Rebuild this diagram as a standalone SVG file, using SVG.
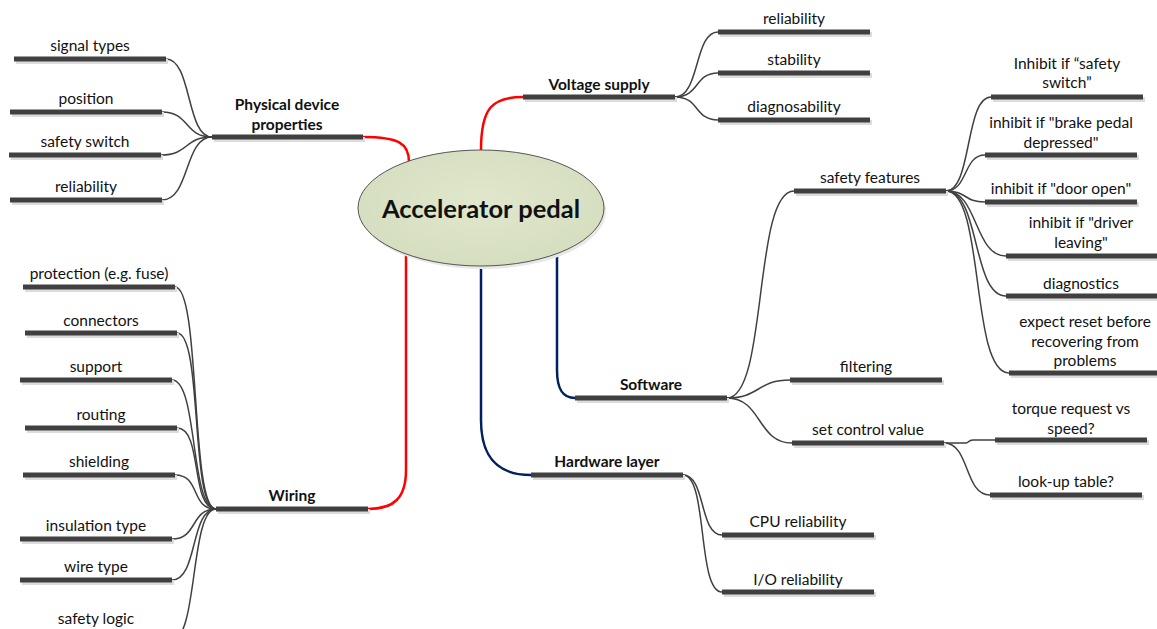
<svg xmlns="http://www.w3.org/2000/svg" width="1157" height="629" viewBox="0 0 1157 629">
<style>
text{font-family:Lato,"Liberation Sans",sans-serif;font-size:15.5px;fill:#111;text-anchor:middle}
.b{font-weight:bold}
.title{font-size:25.5px;font-weight:bold}
.bar{fill:#404040}
.sh{fill:#dcdcdc}
.c{fill:none;stroke:#404040;stroke-width:1.5}
.red{fill:none;stroke:#ff0000;stroke-width:2.5}
.blue{fill:none;stroke:#002060;stroke-width:2.5}
</style>
<defs>
<radialGradient id="eg" cx="0.5" cy="0.45" r="0.6">
<stop offset="0" stop-color="#e0e7cc"/>
<stop offset="1" stop-color="#d5ddbf"/>
</radialGradient>
</defs>
<rect width="1157" height="629" fill="#fff"/>

<g id="connectors">
<path class="red" d="M363 137 C398 137 409 143 409 162"/>
<path class="red" d="M523 97 C492 97 481 108 481 150"/>
<path class="red" d="M406 253 L406 470 C406 498 394 509 368 509"/>
<path class="blue" d="M557 253 L557 370 C557 390 563 398 575 398"/>
<path class="blue" d="M481 267 L481 420 C481 460 500 475 531 475"/>
<path class="c" d="M212 137 C186 137 192 59 166 59"/>
<path class="c" d="M212 137 C184 137 190 112 162 112"/>
<path class="c" d="M212 137 C184 137 189 155 161 155"/>
<path class="c" d="M212 137 C184 137 190 200 162 200"/>
<path class="c" d="M675 97 C700 97 694 32 718 32"/>
<path class="c" d="M675 97 C700 97 694 73 718 73"/>
<path class="c" d="M675 97 C700 97 694 120 718 120"/>
<path class="c" d="M946 191 C972 191 965 97 991 97"/>
<path class="c" d="M946 191 C968 191 963 155 985 155"/>
<path class="c" d="M946 191 C968 191 963 202 985 202"/>
<path class="c" d="M946 191 C978 191 974 256 1006 256"/>
<path class="c" d="M946 191 C980 191 972 296 1006 296"/>
<path class="c" d="M946 191 C985 191 970 373 1009 373"/>
<path class="c" d="M727 398 C768 398 753 191 794 191"/>
<path class="c" d="M727 398 C760 398 757 380 790 380"/>
<path class="c" d="M727 398 C762 398 757 443 792 443"/>
<path class="c" d="M944 443 L966 443 C969 443 968 440 973 440 L995 440"/>
<path class="c" d="M944 443 C970 443 964 495 990 495"/>
<path class="c" d="M683 475 C706 475 699 535 722 535"/>
<path class="c" d="M683 475 C708 475 697 592 722 592"/>
<path class="c" d="M216 509 C190 509 201 287 175 287"/>
<path class="c" d="M216 509 C190 509 203 333 177 333"/>
<path class="c" d="M216 509 C190 509 198 380 172 380"/>
<path class="c" d="M216 509 C190 509 203 428 177 428"/>
<path class="c" d="M216 509 C190 509 201 475 175 475"/>
<path class="c" d="M216 509 C190 509 198 539 172 539"/>
<path class="c" d="M216 509 C190 509 198 580 172 580"/>
<path class="c" d="M216 509 C190 509 198 640 172 640"/>
</g>

<g id="n-center">
<ellipse cx="483" cy="211" rx="123" ry="58" fill="#e8e8e8"/>
<ellipse cx="481" cy="208" rx="123" ry="58" fill="url(#eg)" stroke="#555" stroke-width="1"/>
<text class="title" x="481" y="218">Accelerator pedal</text>
</g>

<g id="n-physical"><rect class="sh" x="214" y="137" width="151" height="5"/><rect class="bar" x="212" y="134.5" width="151" height="5"/><text class="b" x="287" y="110">Physical device</text><text class="b" x="287" y="130">properties</text></g>
<g id="n-signal"><rect class="sh" x="16" y="59" width="152" height="5"/><rect class="bar" x="14" y="56.5" width="152" height="5"/><text x="90" y="51">signal types</text></g>
<g id="n-position"><rect class="sh" x="12" y="112" width="152" height="5"/><rect class="bar" x="10" y="109.5" width="152" height="5"/><text x="86" y="104">position</text></g>
<g id="n-safetyswitch"><rect class="sh" x="11" y="155" width="152" height="5"/><rect class="bar" x="9" y="152.5" width="152" height="5"/><text x="85" y="147">safety switch</text></g>
<g id="n-reliab1"><rect class="sh" x="12" y="200" width="152" height="5"/><rect class="bar" x="10" y="197.5" width="152" height="5"/><text x="86" y="192">reliability</text></g>

<g id="n-voltage"><rect class="sh" x="525" y="97" width="152" height="5"/><rect class="bar" x="523" y="94.5" width="152" height="5"/><text class="b" x="599" y="90">Voltage supply</text></g>
<g id="n-reliab2"><rect class="sh" x="720" y="32" width="152" height="5"/><rect class="bar" x="718" y="29.5" width="152" height="5"/><text x="794" y="24">reliability</text></g>
<g id="n-stability"><rect class="sh" x="720" y="73" width="152" height="5"/><rect class="bar" x="718" y="70.5" width="152" height="5"/><text x="794" y="65">stability</text></g>
<g id="n-diagnosability"><rect class="sh" x="720" y="120" width="152" height="5"/><rect class="bar" x="718" y="117.5" width="152" height="5"/><text x="794" y="112">diagnosability</text></g>

<g id="n-safetyfeatures"><rect class="sh" x="796" y="191" width="152" height="5"/><rect class="bar" x="794" y="188.5" width="152" height="5"/><text x="870" y="183">safety features</text></g>
<g id="n-inh-switch"><rect class="sh" x="993" y="97" width="152" height="5"/><rect class="bar" x="991" y="94.5" width="152" height="5"/><text x="1067" y="69">Inhibit if “safety</text><text x="1067" y="88">switch”</text></g>
<g id="n-inh-brake"><rect class="sh" x="987" y="155" width="152" height="5"/><rect class="bar" x="985" y="152.5" width="152" height="5"/><text x="1061" y="128">inhibit if "brake pedal</text><text x="1061" y="148">depressed"</text></g>
<g id="n-inh-door"><rect class="sh" x="987" y="202" width="152" height="5"/><rect class="bar" x="985" y="199.5" width="152" height="5"/><text x="1061" y="194">inhibit if "door open"</text></g>
<g id="n-inh-driver"><rect class="sh" x="1008" y="256" width="152" height="5"/><rect class="bar" x="1006" y="253.5" width="152" height="5"/><text x="1081" y="228">inhibit if "driver</text><text x="1081" y="248">leaving"</text></g>
<g id="n-diagnostics"><rect class="sh" x="1008" y="296" width="152" height="5"/><rect class="bar" x="1006" y="293.5" width="152" height="5"/><text x="1081" y="289">diagnostics</text></g>
<g id="n-reset"><rect class="sh" x="1011" y="373" width="152" height="5"/><rect class="bar" x="1009" y="370.5" width="152" height="5"/><text x="1085" y="327">expect reset before</text><text x="1085" y="347">recovering from</text><text x="1085" y="366">problems</text></g>

<g id="n-software"><rect class="sh" x="577" y="398" width="152" height="5"/><rect class="bar" x="575" y="395.5" width="152" height="5"/><text class="b" x="651" y="390">Software</text></g>
<g id="n-filtering"><rect class="sh" x="792" y="380" width="152" height="5"/><rect class="bar" x="790" y="377.5" width="152" height="5"/><text x="866" y="372">filtering</text></g>
<g id="n-setcontrol"><rect class="sh" x="794" y="443" width="152" height="5"/><rect class="bar" x="792" y="440.5" width="152" height="5"/><text x="868" y="435">set control value</text></g>
<g id="n-torque"><rect class="sh" x="997" y="440" width="152" height="5"/><rect class="bar" x="995" y="437.5" width="152" height="5"/><text x="1071" y="414">torque request vs</text><text x="1071" y="434">speed?</text></g>
<g id="n-lookup"><rect class="sh" x="992" y="495" width="152" height="5"/><rect class="bar" x="990" y="492.5" width="152" height="5"/><text x="1066" y="487">look-up table?</text></g>

<g id="n-hardware"><rect class="sh" x="533" y="475" width="152" height="5"/><rect class="bar" x="531" y="472.5" width="152" height="5"/><text class="b" x="607" y="467">Hardware layer</text></g>
<g id="n-cpu"><rect class="sh" x="724" y="535" width="152" height="5"/><rect class="bar" x="722" y="532.5" width="152" height="5"/><text x="798" y="527">CPU reliability</text></g>
<g id="n-io"><rect class="sh" x="724" y="592" width="152" height="5"/><rect class="bar" x="722" y="589.5" width="152" height="5"/><text x="798" y="585">I/O reliability</text></g>

<g id="n-wiring"><rect class="sh" x="218" y="509" width="152" height="5"/><rect class="bar" x="216" y="506.5" width="152" height="5"/><text class="b" x="292" y="501">Wiring</text></g>
<g id="n-protection"><rect class="sh" x="25" y="287" width="152" height="5"/><rect class="bar" x="23" y="284.5" width="152" height="5"/><text x="99" y="279">protection (e.g. fuse)</text></g>
<g id="n-connectors"><rect class="sh" x="27" y="333" width="152" height="5"/><rect class="bar" x="25" y="330.5" width="152" height="5"/><text x="101" y="326">connectors</text></g>
<g id="n-support"><rect class="sh" x="22" y="380" width="152" height="5"/><rect class="bar" x="20" y="377.5" width="152" height="5"/><text x="96" y="372">support</text></g>
<g id="n-routing"><rect class="sh" x="27" y="428" width="152" height="5"/><rect class="bar" x="25" y="425.5" width="152" height="5"/><text x="101" y="420">routing</text></g>
<g id="n-shielding"><rect class="sh" x="25" y="475" width="152" height="5"/><rect class="bar" x="23" y="472.5" width="152" height="5"/><text x="99" y="467">shielding</text></g>
<g id="n-insulation"><rect class="sh" x="22" y="539" width="152" height="5"/><rect class="bar" x="20" y="536.5" width="152" height="5"/><text x="96" y="531">insulation type</text></g>
<g id="n-wiretype"><rect class="sh" x="22" y="580" width="152" height="5"/><rect class="bar" x="20" y="577.5" width="152" height="5"/><text x="96" y="572">wire type</text></g>
<g id="n-safetylogic"><rect class="sh" x="22" y="640" width="152" height="5"/><rect class="bar" x="20" y="637.5" width="152" height="5"/><text x="96" y="624">safety logic</text></g>
</svg>
